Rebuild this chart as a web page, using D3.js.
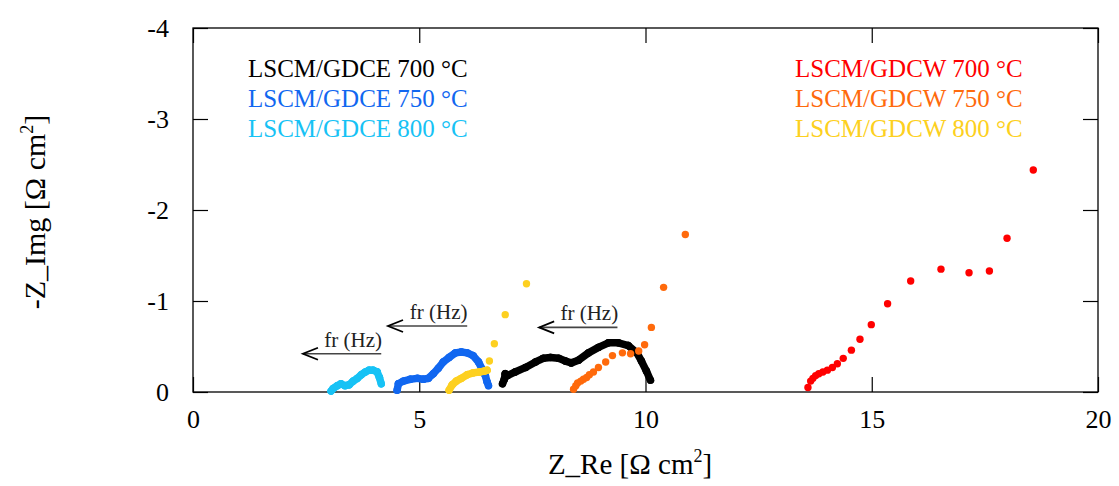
<!DOCTYPE html>
<html><head><meta charset="utf-8">
<script src="https://cdn.jsdelivr.net/npm/d3@7"></script>
<style>
html,body{margin:0;padding:0;background:#fff;}
svg{display:block;font-family:"Liberation Serif","Times New Roman",serif;}
</style></head>
<body><svg id="c" width="1119" height="486"></svg>
<script>
// ---- data (Z_Re, Z_Img in Ω cm²) ----
const xTicks = [0, 5, 10, 15, 20];
const yTicks = [0, -1, -2, -3, -4];
const seriesNames = ["LSCM/GDCE 700 °C","LSCM/GDCE 750 °C","LSCM/GDCE 800 °C",
                     "LSCM/GDCW 700 °C","LSCM/GDCW 750 °C","LSCM/GDCW 800 °C"];

const gdce700Re  = [6.84,6.88,6.90,6.95,7.12,7.35,7.57,7.74,7.90,8.08,8.23,8.36,8.52,8.74,8.96,9.18,9.40,9.62,9.81,9.91,10.02,10.11];
const gdce700Img = [-0.09,-0.14,-0.20,-0.18,-0.22,-0.27,-0.33,-0.37,-0.38,-0.37,-0.34,-0.32,-0.35,-0.43,-0.49,-0.54,-0.54,-0.51,-0.43,-0.34,-0.23,-0.13];

const gdce750Re  = [4.51,4.54,4.65,4.80,4.96,5.09,5.20,5.31,5.42,5.53,5.66,5.80,5.93,6.06,6.19,6.31,6.39,6.46,6.50,6.53];
const gdce750Img = [-0.02,-0.09,-0.12,-0.14,-0.15,-0.14,-0.15,-0.20,-0.26,-0.33,-0.38,-0.43,-0.44,-0.43,-0.40,-0.33,-0.25,-0.18,-0.11,-0.07];

const gdce800Re  = [3.05,3.10,3.19,3.27,3.36,3.45,3.54,3.63,3.72,3.81,3.89,3.98,4.07,4.12,4.16];
const gdce800Img = [-0.01,-0.04,-0.07,-0.09,-0.07,-0.08,-0.12,-0.15,-0.19,-0.22,-0.24,-0.24,-0.22,-0.16,-0.09];

const gdcw700Re  = [13.59,13.65,13.70,13.76,13.83,13.92,14.02,14.13,14.24,14.37,14.55,14.74,14.99,15.35,15.86,16.53,17.15,17.60,17.99,18.57];
const gdcw700Img = [-0.05,-0.12,-0.15,-0.18,-0.20,-0.22,-0.24,-0.27,-0.31,-0.37,-0.46,-0.58,-0.74,-0.97,-1.22,-1.35,-1.31,-1.33,-1.69,-2.44];

const gdcw750Re  = [8.41,8.46,8.50,8.57,8.63,8.70,8.76,8.85,8.96,9.12,9.27,9.49,9.67,9.85,9.98,10.13,10.40,10.88];
const gdcw750Img = [-0.03,-0.07,-0.10,-0.12,-0.14,-0.16,-0.19,-0.22,-0.27,-0.33,-0.40,-0.43,-0.42,-0.45,-0.52,-0.71,-1.15,-1.73];

const gdcw800Re  = [5.66,5.73,5.82,5.93,6.06,6.19,6.33,6.44,6.50,6.55,6.66,6.90,7.37];
const gdcw800Img = [-0.02,-0.08,-0.12,-0.15,-0.19,-0.21,-0.22,-0.23,-0.24,-0.34,-0.53,-0.85,-1.19];

// annotation arrows: tip x, tail x, y, label
const arrowTipX  = [2.43, 4.31, 7.65];
const arrowTailX = [4.16, 6.06, 9.38];
const arrowY     = [-0.42, -0.725, -0.71];
const arrowLabel = ["fr (Hz)", "fr (Hz)", "fr (Hz)"];

// ---- styles ----
const colors  = ["#000000","#1167f0","#17c2f5","#ff0000","#ff6a0c","#fdd020"];
const maxGap  = [14, 14, 14, 0, 0, 8];   // px: consecutive points closer than this are joined

const series = [
  [gdce700Re, gdce700Img],[gdce750Re, gdce750Img],[gdce800Re, gdce800Img],
  [gdcw700Re, gdcw700Img],[gdcw750Re, gdcw750Img],[gdcw800Re, gdcw800Img]
].map((s,i)=>({name:seriesNames[i], color:colors[i], gap:maxGap[i],
   pts:s[0].map((x,j)=>({x, y:s[1][j]}))}));

const svg = d3.select("#c");
const L=193, T=28, R=1098, B=392;
const x = d3.scaleLinear().domain([0,20]).range([L,R]);
const y = d3.scaleLinear().domain([0,-4]).range([B,T]);

// frame
svg.append("rect").attr("x",L).attr("y",T).attr("width",R-L).attr("height",B-T)
  .attr("fill","none").attr("stroke","#000").attr("stroke-width",1.3);

const tickLen = 15;
const gx = svg.append("g").attr("transform",`translate(0,${B})`)
  .call(d3.axisBottom(x).tickValues(xTicks).tickSize(-tickLen).tickPadding(18).tickFormat(d3.format("d")));
const gxTop = svg.append("g").attr("transform",`translate(0,${T})`)
  .call(d3.axisTop(x).tickValues(xTicks).tickSize(-tickLen).tickFormat(""));
const gy = svg.append("g").attr("transform",`translate(${L},0)`)
  .call(d3.axisLeft(y).tickValues(yTicks).tickSize(-tickLen).tickPadding(24).tickFormat(d=>d===0?"0":String(d).replace("−","-")));
const gyR = svg.append("g").attr("transform",`translate(${R},0)`)
  .call(d3.axisRight(y).tickValues(yTicks).tickSize(-tickLen).tickFormat(""));
[gx,gxTop,gy,gyR].forEach(g=>{
  g.attr("font-family",null);
  g.select(".domain").remove();
  g.selectAll(".tick line").attr("stroke","#000").attr("stroke-width",1.2);
  g.selectAll("text").style("font-family","'Liberation Serif', serif").attr("font-size",26).attr("fill","#000");
});

// axis titles
const xt = svg.append("text").attr("x",630).attr("y",474).attr("text-anchor","middle")
  .attr("font-size",29).attr("fill","#000");
xt.append("tspan").text("Z_Re [Ω cm");
xt.append("tspan").attr("font-size",18).attr("dy",-12).text("2");
xt.append("tspan").attr("dy",12).text("]");

const yt = svg.append("text").attr("transform","translate(45,212) rotate(-90)")
  .attr("text-anchor","middle").attr("font-size",30).attr("fill","#000");
yt.append("tspan").text("-Z_Img [Ω cm");
yt.append("tspan").attr("font-size",18).attr("dy",-12).text("2");
yt.append("tspan").attr("dy",12).text("]");

// series
const plot = svg.append("g");
series.forEach(s=>{
  const g = plot.append("g");
  const segs = [];
  for(let j=1;j<s.pts.length;j++){
    const a=s.pts[j-1], b=s.pts[j];
    const d=Math.hypot(x(b.x)-x(a.x), y(b.y)-y(a.y));
    if(d < s.gap) segs.push([a,b]);
  }
  g.selectAll("line").data(segs).join("line")
    .attr("x1",d=>x(d[0].x)).attr("y1",d=>y(d[0].y))
    .attr("x2",d=>x(d[1].x)).attr("y2",d=>y(d[1].y))
    .attr("stroke",s.color).attr("stroke-width",7.5).attr("stroke-linecap","round");
  g.selectAll("circle").data(s.pts).join("circle")
    .attr("cx",d=>x(d.x)).attr("cy",d=>y(d.y)).attr("r",3.7).attr("fill",s.color);
});

// legend
const legX = [248, 248, 248, 795, 795, 795];
const legY = [77, 107, 137, 77, 107, 137];
series.forEach((s,i)=>{
  svg.append("text").attr("x",legX[i]).attr("y",legY[i]).attr("font-size",25)
    .attr("fill",s.color).text(s.name);
});

// frequency arrows
arrowTipX.forEach((tx,i)=>{
  const x0=x(tx), x1=x(arrowTailX[i]), yy=y(arrowY[i]);
  const g=svg.append("g");
  g.append("line").attr("x1",x0).attr("x2",x1).attr("y1",yy).attr("y2",yy)
    .attr("stroke","#444").attr("stroke-width",1.6);
  g.append("path").attr("d",`M${x0+15},${yy-6} L${x0},${yy} L${x0+15},${yy+6}`)
    .attr("fill","none").attr("stroke","#000").attr("stroke-width",1.8);
  g.append("text").attr("x",(x0+x1)/2+11).attr("y",yy-7).attr("text-anchor","middle")
    .attr("font-size",21).attr("fill","#222").text(arrowLabel[i]);
});
</script></body></html>
